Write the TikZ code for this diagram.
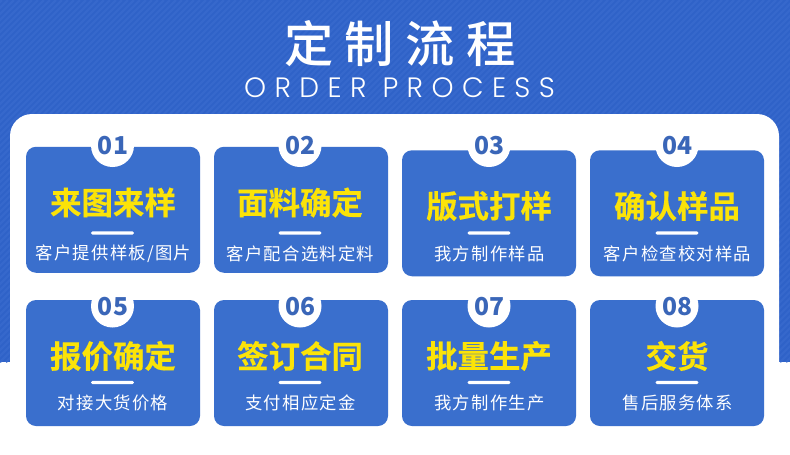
\documentclass[tikz,border=0pt]{standalone}
\usepackage{fontspec}
\newfontfamily\cjkhead[LetterSpace=23,BoldFont={Noto Sans CJK SC Medium}]{Noto Sans CJK SC}
\newfontfamily\cjkbold[FakeBold=0.35,BoldFont={Noto Sans CJK SC Bold}]{Noto Sans CJK SC Bold}
\newfontfamily\cjksub[LetterSpace=7]{Noto Sans CJK SC}
\newfontfamily\cjknum{Noto Sans CJK SC}
\newfontfamily\engfont[LetterSpace=30]{Poppins Light}
\definecolor{bgblue}{HTML}{2F62C8}
\definecolor{stripeblue}{HTML}{3668CC}
\definecolor{cardblue}{HTML}{3A6FCD}
\definecolor{numblue}{HTML}{3A66B8}
\definecolor{titleyellow}{HTML}{FBE308}
\tikzset{
  every picture/.style={line width=0.75pt},
  cardbox/.style={fill=cardblue,rounded corners=7.5pt,minimum width=130.5pt,minimum height=94.5pt,inner sep=0pt},
  notchdot/.style={circle,fill=white,minimum size=32.25pt,inner sep=0pt},
  numlabel/.style={inner sep=0pt,text=numblue,font=\cjknum\bfseries\fontsize{18.5}{22}\selectfont},
  titlelabel/.style={inner sep=0pt,text=titleyellow,font=\cjkbold\fontsize{23.6}{28}\selectfont},
  barline/.style={fill=white,rounded corners=1pt,minimum width=32pt,minimum height=2.6pt,inner sep=0pt},
  sublabel/.style={inner sep=0pt,text=white,font=\cjksub\fontsize{13}{15}\selectfont},
}
\begin{document}
\begin{tikzpicture}[x=0.75pt,y=0.75pt,yscale=-1,xscale=1]
  \useasboundingbox (0,0) rectangle (790,454);

  %Shape: Blue band
  \fill [bgblue] (0,0) rectangle (790,362);
  \begin{scope}
    \clip (0,0) rectangle (790,362);
    \foreach \i in {-366,-360,...,790} {
      \draw [stripeblue,line width=1.6pt] (\i,362) -- ++(362,-362);
    }
  \end{scope}
  %Shape: White panel
  \fill [white] (10,454) -- (10,136) arc [start angle=180,end angle=270,radius=22] -- (757,114) arc [start angle=270,end angle=360,radius=22] -- (779,454) -- cycle;

  %Heading
  \node (heading) [inner sep=0pt,text=white,font=\cjkhead\bfseries\fontsize{37}{44}\selectfont] at (400,44) {定制流程};
  \node (headingen) [inner sep=0pt,text=white,font=\engfont\fontsize{21}{26}\selectfont] at (399.5,87.5) {ORDER PROCESS};

  %Card 01
  \node (card1) [cardbox] at (113,209.75) {};
  \node (notch1) [notchdot] at (112.5,145.5) {};
  \node (num1) [numlabel] at (113,145.5) {01};
  \node (title1) [titlelabel] at (113,202.5) {来图来样};
  \node (bar1) [barline] at (112.5,233) {};
  \node (sub1) [sublabel] at (113.5,253.5) {客户提供样板/图片};

  %Card 02
  \node (card2) [cardbox] at (301,209.75) {};
  \node (notch2) [notchdot] at (300,145.5) {};
  \node (num2) [numlabel] at (300.5,145.5) {02};
  \node (title2) [titlelabel] at (300,202.5) {面料确定};
  \node (bar2) [barline] at (300,233) {};
  \node (sub2) [sublabel] at (300.5,253.5) {客户配合选料定料};

  %Card 03
  \node (card3) [cardbox] at (489,213.25) {};
  \node (notch3) [notchdot] at (489,145.5) {};
  \node (num3) [numlabel] at (489.5,145.5) {03};
  \node (title3) [titlelabel] at (489,206) {版式打样};
  \node (bar3) [barline] at (489,233) {};
  \node (sub3) [sublabel] at (489.5,253.5) {我方制作样品};

  %Card 04
  \node (card4) [cardbox] at (677,213.25) {};
  \node (notch4) [notchdot] at (677,145.5) {};
  \node (num4) [numlabel] at (677.5,145.5) {04};
  \node (title4) [titlelabel] at (677,206) {确认样品};
  \node (bar4) [barline] at (677,233) {};
  \node (sub4) [sublabel] at (677.5,253.5) {客户检查校对样品};

  %Card 05
  \node (card5) [cardbox] at (113,363) {};
  \node (notch5) [notchdot] at (112.5,306) {};
  \node (num5) [numlabel] at (113,306.5) {05};
  \node (title5) [titlelabel] at (113,356) {报价确定};
  \node (bar5) [barline] at (112.5,382.5) {};
  \node (sub5) [sublabel] at (113,403) {对接大货价格};

  %Card 06
  \node (card6) [cardbox] at (301,363) {};
  \node (notch6) [notchdot] at (300,306) {};
  \node (num6) [numlabel] at (300.5,306.5) {06};
  \node (title6) [titlelabel] at (300,356) {签订合同};
  \node (bar6) [barline] at (300,382.5) {};
  \node (sub6) [sublabel] at (300.5,403) {支付相应定金};

  %Card 07
  \node (card7) [cardbox] at (489,363) {};
  \node (notch7) [notchdot] at (489,306) {};
  \node (num7) [numlabel] at (489.5,306.5) {07};
  \node (title7) [titlelabel] at (489,356) {批量生产};
  \node (bar7) [barline] at (489,382.5) {};
  \node (sub7) [sublabel] at (489.5,403) {我方制作生产};

  %Card 08
  \node (card8) [cardbox] at (677,363) {};
  \node (notch8) [notchdot] at (677,306) {};
  \node (num8) [numlabel] at (677.5,306.5) {08};
  \node (title8) [titlelabel] at (677,356) {交货};
  \node (bar8) [barline] at (677,382.5) {};
  \node (sub8) [sublabel] at (677.5,403) {售后服务体系};
\end{tikzpicture}
\end{document}
